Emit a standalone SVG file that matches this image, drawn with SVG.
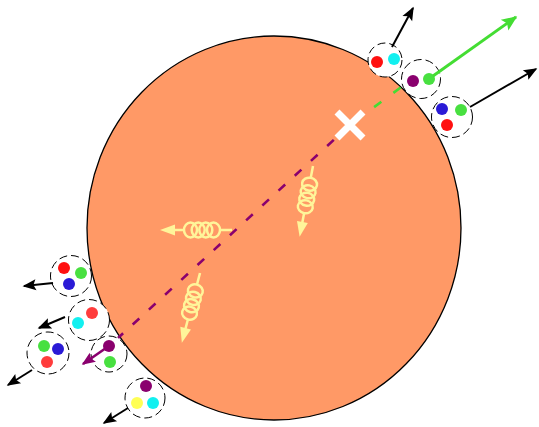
<svg xmlns="http://www.w3.org/2000/svg" xmlns:xlink="http://www.w3.org/1999/xlink" width="539" height="427" viewBox="0 0 539 427">
  <style>
    .hadron { fill: #ffffff; stroke: #000000; stroke-width: 1; stroke-dasharray: 8 4; }
    .arrow { fill: none; stroke: #000000; stroke-width: 2; }
    .gluon { fill: none; stroke: #fff59a; stroke-width: 2.5; }
    .red { fill: #ff1010; }
    .red2 { fill: #ff3c3c; }
    .green { fill: #48e040; }
    .blue { fill: #2a1ad6; }
    .cyan { fill: #12f0f0; }
    .purple { fill: #8a006e; }
    .yellow { fill: #ffff55; }
  </style>
  <defs>
    <marker id="headBlack" viewBox="-14 -7 16 14" refX="0" refY="0" markerWidth="16" markerHeight="14" markerUnits="userSpaceOnUse" orient="auto">
      <path d="M1.5,0 L-12,-5.5 L-9.5,0 L-12,5.5 Z" fill="#000000"/>
    </marker>
    <marker id="headGreen" viewBox="-16 -8 18 16" refX="0" refY="0" markerWidth="18" markerHeight="16" markerUnits="userSpaceOnUse" orient="auto">
      <path d="M1.5,0 L-14,-6.5 L-11,0 L-14,6.5 Z" fill="#44dd33"/>
    </marker>
    <marker id="headPurple" viewBox="-14 -7 16 14" refX="0" refY="0" markerWidth="16" markerHeight="14" markerUnits="userSpaceOnUse" orient="auto">
      <path d="M1.5,0 L-12,-5.5 L-9.5,0 L-12,5.5 Z" fill="#8a006e"/>
    </marker>
    <!-- gluon: straight lead, four coil loops, arrowhead; start at origin, pointing +x -->
    <g id="gluonShape">
      <path class="gluon" d="M0,0 H12.5 M48,0 H59"/>
      <ellipse class="gluon" cx="18.5" cy="0" rx="6.5" ry="7.5"/>
      <ellipse class="gluon" cx="26.2" cy="0" rx="6.5" ry="7.5"/>
      <ellipse class="gluon" cx="33.8" cy="0" rx="6.5" ry="7.5"/>
      <ellipse class="gluon" cx="41.5" cy="0" rx="6.5" ry="7.5"/>
      <polygon points="72,0 57,-5.5 57,5.5" fill="#fff59a"/>
    </g>
  </defs>

  <!-- nucleus -->
  <g id="nucleus">
    <ellipse cx="274" cy="228" rx="187" ry="192" fill="#ff9966" stroke="#000000" stroke-width="1.3"/>
  </g>

  <!-- gluons -->
  <g id="gluon-horizontal" transform="translate(232,230) rotate(180)">
    <use xlink:href="#gluonShape"/>
  </g>
  <g id="gluon-right" transform="translate(313,166) rotate(100.7)">
    <use xlink:href="#gluonShape"/>
  </g>
  <g id="gluon-left" transform="translate(200,273) rotate(104.6)">
    <use xlink:href="#gluonShape"/>
  </g>

  <!-- connectors -->
  <g id="connectors">
    <line x1="350" y1="125" x2="118" y2="338" stroke="#8a006e" stroke-width="2.6" stroke-dasharray="9 13"/>
    <line x1="350" y1="125" x2="404" y2="85" stroke="#44dd33" stroke-width="2.6" stroke-dasharray="9 15" stroke-dashoffset="-6"/>
  </g>

  <!-- hadron clusters -->
  <g id="cluster-1">
    <circle class="hadron" cx="385" cy="60" r="17"/>
    <circle class="red" cx="377" cy="62" r="6"/>
    <circle class="cyan" cx="394" cy="59" r="6"/>
  </g>
  <g id="cluster-2">
    <circle class="hadron" cx="421" cy="79" r="19.5"/>
    <circle class="purple" cx="413" cy="81" r="6"/>
    <circle class="green" cx="429" cy="79" r="6"/>
  </g>
  <g id="cluster-3">
    <circle class="hadron" cx="452" cy="117" r="20.5"/>
    <circle class="blue" cx="442" cy="109" r="6"/>
    <circle class="green" cx="461" cy="110" r="6"/>
    <circle class="red" cx="447" cy="125" r="6"/>
  </g>
  <g id="cluster-a">
    <circle class="hadron" cx="71" cy="276" r="20.5"/>
    <circle class="red" cx="64" cy="268" r="6"/>
    <circle class="green" cx="81" cy="273" r="6"/>
    <circle class="blue" cx="69" cy="284" r="6"/>
  </g>
  <g id="cluster-b">
    <circle class="hadron" cx="89" cy="320" r="20.5"/>
    <circle class="cyan" cx="78" cy="323" r="6"/>
    <circle class="red2" cx="92" cy="313" r="6"/>
  </g>
  <g id="cluster-c">
    <circle class="hadron" cx="48" cy="353" r="21"/>
    <circle class="green" cx="44" cy="346" r="6"/>
    <circle class="blue" cx="58" cy="349" r="6"/>
    <circle class="red2" cx="47" cy="362" r="6"/>
  </g>
  <g id="cluster-d">
    <circle class="hadron" cx="109" cy="354" r="18"/>
    <circle class="purple" cx="109" cy="346" r="6"/>
    <circle class="green" cx="110" cy="362" r="6"/>
  </g>
  <g id="cluster-e">
    <circle class="hadron" cx="145" cy="398" r="20"/>
    <circle class="purple" cx="146" cy="386" r="6"/>
    <circle class="yellow" cx="137" cy="403" r="6"/>
    <circle class="cyan" cx="153" cy="403" r="6"/>
  </g>

  <!-- outgoing momenta -->
  <g id="momenta">
    <line class="arrow" x1="392" y1="47" x2="413" y2="8" marker-end="url(#headBlack)"/>
    <line x1="433" y1="76" x2="516" y2="17" stroke="#44dd33" stroke-width="3" marker-end="url(#headGreen)"/>
    <line class="arrow" x1="470" y1="107" x2="536" y2="69" marker-end="url(#headBlack)"/>
    <line class="arrow" x1="53" y1="283" x2="24" y2="286" marker-end="url(#headBlack)"/>
    <line class="arrow" x1="65" y1="317" x2="39" y2="328" marker-end="url(#headBlack)"/>
    <line class="arrow" x1="32" y1="370" x2="8" y2="385" marker-end="url(#headBlack)"/>
    <line x1="106" y1="348" x2="83" y2="364" stroke="#8a006e" stroke-width="2.6" marker-end="url(#headPurple)"/>
    <line class="arrow" x1="128" y1="408" x2="104" y2="423" marker-end="url(#headBlack)"/>
  </g>

  <!-- interaction vertex -->
  <g id="vertex">
    <path d="M337,112 L363,138 M363,112 L337,138" stroke="#ffffff" stroke-width="7"/>
  </g>
</svg>
